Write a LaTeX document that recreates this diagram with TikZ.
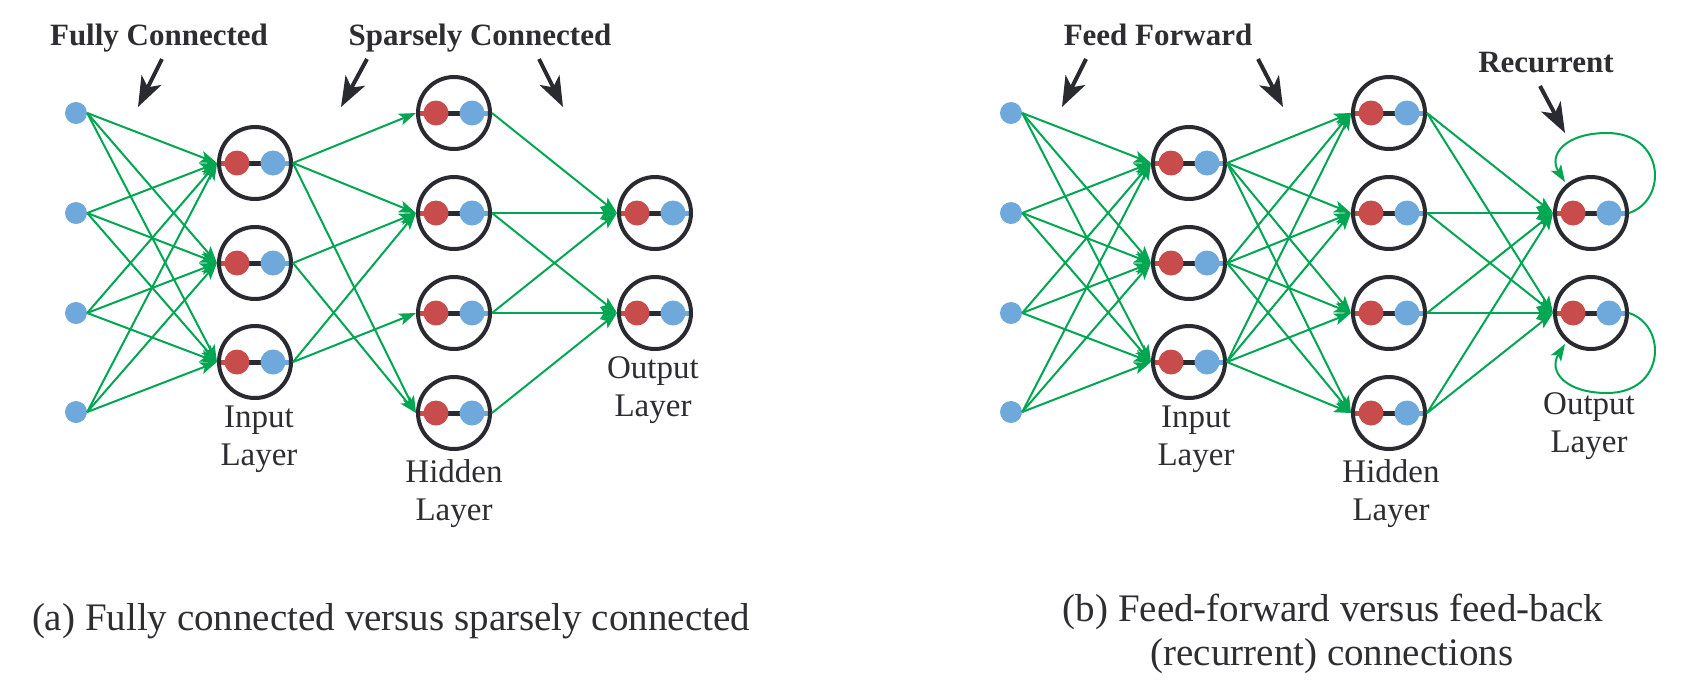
\documentclass[tikz,border=0pt]{standalone}
\usepackage{fontspec}
\setmainfont{Liberation Serif}
\usetikzlibrary{arrows.meta}
\definecolor{gr}{RGB}{0,166,81}
\definecolor{rd}{RGB}{200,76,76}
\definecolor{bl}{RGB}{111,168,218}
\definecolor{dk}{RGB}{42,43,49}
\definecolor{tx}{RGB}{45,45,50}
\tikzset{
  neur/.style={circle, draw=dk, line width=4pt, minimum size=72pt, inner sep=0pt},
  inp/.style={circle, fill=bl, minimum size=22pt, inner sep=0pt},
  conn/.style={draw=gr, line width=2pt, -{Stealth[length=17pt,width=12pt,inset=4pt]}},
  blackarrow/.style={draw=dk, line width=4pt, -{Stealth[length=30pt,width=22pt,inset=8pt]}},
  lab/.style={text=tx, font=\fontsize{33}{38}\selectfont, anchor=base, inner sep=0pt},
  headtext/.style={text=tx, font=\fontsize{31}{36}\selectfont\bfseries, anchor=base, inner sep=0pt},
  captext/.style={text=tx, font=\fontsize{39}{44}\selectfont, anchor=base, inner sep=0pt},
}
\newcommand{\mkneuron}[3]{%
  \begin{scope}[shift={(#2,#3)}]
    \draw[line width=5pt, rd] (-36,0) -- (-18,0);
    \draw[line width=5pt, bl] (18,0) -- (36,0);
    \draw[line width=5pt, dk] (-18,0) -- (18,0);
    \fill[rd] (-18,0) circle[radius=12.5];
    \fill[bl] (18,0) circle[radius=12.5];
  \end{scope}
  \node[neur] (#1) at (#2,#3) {};%
}
\begin{document}
\begin{tikzpicture}[x=1pt,y=-1pt]
\useasboundingbox (0,0) rectangle (1694,686);

% ---------------- panel (a) ----------------
\foreach \k/\y in {1/113,2/213,3/313,4/412} \node[inp] (a-x\k) at (76,\y) {};
\mkneuron{a-i1}{255}{163}
\mkneuron{a-i2}{255}{263}
\mkneuron{a-i3}{255}{362}
\mkneuron{a-h1}{454}{113}
\mkneuron{a-h2}{454}{213}
\mkneuron{a-h3}{454}{313}
\mkneuron{a-h4}{454}{413}
\mkneuron{a-o1}{655}{213}
\mkneuron{a-o2}{655}{313}

\foreach \s in {1,...,4} \foreach \t in {1,2,3} \draw[conn] (a-x\s.east) -- (a-i\t.west);
\foreach \s/\t in {1/1,1/2,1/4,2/2,2/4,3/2,3/3} \draw[conn] (a-i\s.east) -- (a-h\t.west);
\foreach \s/\t in {1/1,2/1,2/2,3/1,3/2,4/2} \draw[conn] (a-h\s.east) -- (a-o\t.west);

\node[headtext] (a-full) at (159,45) {Fully Connected};
\node[headtext] (a-sparse) at (480,45) {Sparsely Connected};
\coordinate (a-p1s) at (162,59);  \coordinate (a-p1e) at (138,107);
\coordinate (a-p2s) at (367,59);  \coordinate (a-p2e) at (341,107);
\coordinate (a-p3s) at (539,59);  \coordinate (a-p3e) at (563,107);
\draw[blackarrow] (a-p1s) -- (a-p1e);
\draw[blackarrow] (a-p2s) -- (a-p2e);
\draw[blackarrow] (a-p3s) -- (a-p3e);

\node[lab] (a-inl1) at (259,427) {Input};
\node[lab] (a-inl2) at (259,465) {Layer};
\node[lab] (a-hil1) at (454,482) {Hidden};
\node[lab] (a-hil2) at (454,520) {Layer};
\node[lab] (a-oul1) at (653,378) {Output};
\node[lab] (a-oul2) at (653,416) {Layer};

\node[captext] (a-cap) at (391,630) {(a) Fully connected versus sparsely connected};

% ---------------- panel (b) ----------------
\foreach \k/\y in {1/113,2/213,3/313,4/412} \node[inp] (b-x\k) at (1011,\y) {};
\mkneuron{b-i1}{1189}{163}
\mkneuron{b-i2}{1189}{263}
\mkneuron{b-i3}{1189}{362}
\mkneuron{b-h1}{1389}{113}
\mkneuron{b-h2}{1389}{213}
\mkneuron{b-h3}{1389}{313}
\mkneuron{b-h4}{1389}{413}
\mkneuron{b-o1}{1591}{213}
\mkneuron{b-o2}{1591}{313}

\foreach \s in {1,...,4} \foreach \t in {1,2,3} \draw[conn] (b-x\s.east) -- (b-i\t.west);
\foreach \s in {1,2,3} \foreach \t in {1,...,4} \draw[conn] (b-i\s.east) -- (b-h\t.west);
\foreach \s in {1,...,4} \foreach \t in {1,2} \draw[conn] (b-h\s.east) -- (b-o\t.west);

% recurrent self loops
\coordinate (b-l1t) at (1607,133);
\coordinate (b-l1e) at (1565,182);
\coordinate (b-l2t) at (1607,393);
\coordinate (b-l2e) at (1565,344);
\draw[conn] (b-o1.east) .. controls (1668,200) and (1665,133) .. (b-l1t)
            .. controls (1565,133) and (1548,155) .. (b-l1e);
\draw[conn] (b-o2.east) .. controls (1668,326) and (1665,393) .. (b-l2t)
            .. controls (1565,393) and (1548,371) .. (b-l2e);

\node[headtext] (b-ff) at (1158,45) {Feed Forward};
\node[headtext] (b-rec) at (1546,72) {Recurrent};
\coordinate (b-p1s) at (1086,59);  \coordinate (b-p1e) at (1062,107);
\coordinate (b-p2s) at (1258,59);  \coordinate (b-p2e) at (1283,107);
\coordinate (b-p3s) at (1540,86);  \coordinate (b-p3e) at (1565,133);
\draw[blackarrow] (b-p1s) -- (b-p1e);
\draw[blackarrow] (b-p2s) -- (b-p2e);
\draw[blackarrow] (b-p3s) -- (b-p3e);

\node[lab] (b-inl1) at (1196,427) {Input};
\node[lab] (b-inl2) at (1196,465) {Layer};
\node[lab] (b-hil1) at (1391,482) {Hidden};
\node[lab] (b-hil2) at (1391,520) {Layer};
\node[lab] (b-oul1) at (1589,414) {Output};
\node[lab] (b-oul2) at (1589,452) {Layer};

\node[captext] (b-cap1) at (1333,621) {(b) Feed-forward versus feed-back};
\node[captext] (b-cap2) at (1332,665) {(recurrent) connections};
\end{tikzpicture}
\end{document}
